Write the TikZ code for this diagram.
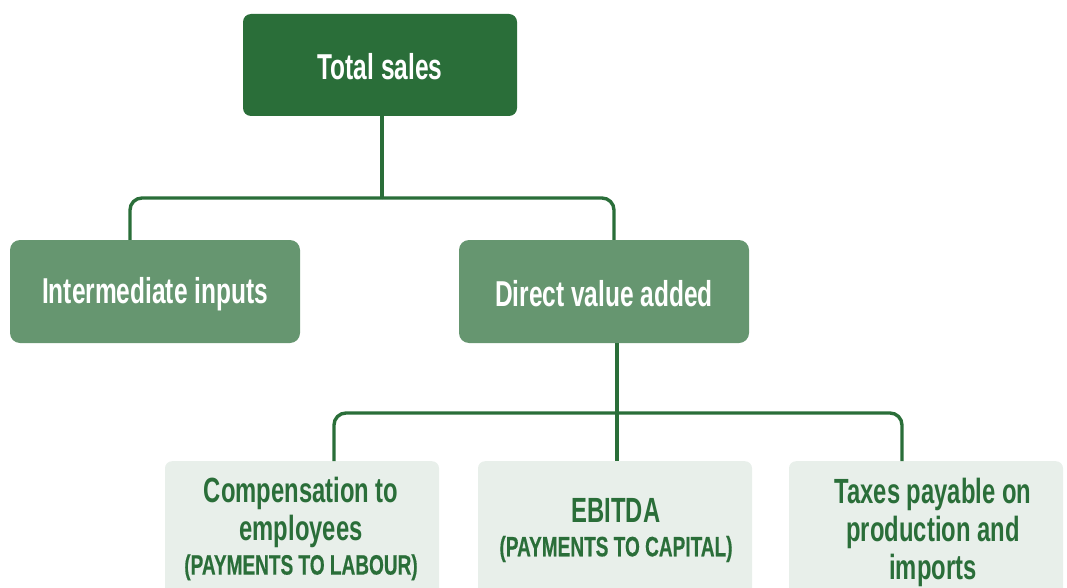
\documentclass[tikz,border=0pt]{standalone}
\usepackage{fontspec}
\setmainfont{Liberation Sans}[FakeStretch=0.68]
\newfontfamily\semifont{Liberation Sans}[FakeStretch=0.68, FakeBold=0.4]
\definecolor{darkg}{RGB}{42,110,57}
\definecolor{midg}{RGB}{102,150,112}
\definecolor{lightg}{RGB}{232,239,234}
\tikzset{
  topbox/.style={fill=darkg, rounded corners=8pt, minimum width=274pt, minimum height=102pt, inner sep=0pt},
  midbox/.style={fill=midg, rounded corners=10pt, minimum width=290pt, minimum height=103pt, inner sep=0pt},
  lowbox/.style={fill=lightg, rounded corners=7pt, minimum width=274pt, minimum height=160pt, inner sep=0pt, anchor=north},
  whitetext/.style={text=white, font=\fontsize{36}{40}\selectfont\bfseries},
  lowtext/.style={text=darkg, align=center, inner sep=0pt, anchor=north, font=\fontsize{35}{38}\selectfont\bfseries},
  conn/.style={draw=darkg, line width=3.4pt, rounded corners=12pt},
}
\begin{document}
\begin{tikzpicture}[x=1pt,y=1pt]
\useasboundingbox (0,0) rectangle (1067,-588);
\clip (0,0) rectangle (1067,-588);
% boxes
\node[topbox] (ts) at (380,-65) {};
\node[midbox] (ii) at (155,-291.5) {};
\node[midbox] (dva) at (604,-291.5) {};
\node[lowbox] (ce) at (302,-461) {};
\node[lowbox] (eb) at (615,-461) {};
\node[lowbox] (tx) at (926,-461) {};
% texts
\node[whitetext] (tst) at (380,-67) {Total sales};
\node[whitetext] (iit) at (155,-294) {Intermediate inputs};
\node[whitetext] (dvat) at (604,-294) {Direct value added};
\node[lowtext] (cet) at (301,-477) {Compensation to\\employees\\[-4pt]{\fontsize{28}{34}\semifont (PAYMENTS TO LABOUR)}};
\node[lowtext] (ebt) at (616,-498) {EBITDA\\[-4pt]{\fontsize{28}{32}\semifont (PAYMENTS TO CAPITAL)}};
\node[lowtext] (txt) at (933,-478) {Taxes payable on\\production and\\imports};
% connectors
\coordinate (j1) at (382,-198);
\coordinate (j2) at (617,-413);
\draw[conn] ([xshift=2pt]ts.south) -- (j1);
\draw[conn] ([xshift=-25pt]ii.north) |- (j1);
\draw[conn] ([xshift=10pt]dva.north) |- (j1);
\draw[conn] ([xshift=13pt]dva.south) -- ([xshift=2pt]eb.north);
\draw[conn] ([xshift=32pt]ce.north) |- (j2);
\draw[conn] ([xshift=-24pt]tx.north) |- (j2);
\end{tikzpicture}
\end{document}
